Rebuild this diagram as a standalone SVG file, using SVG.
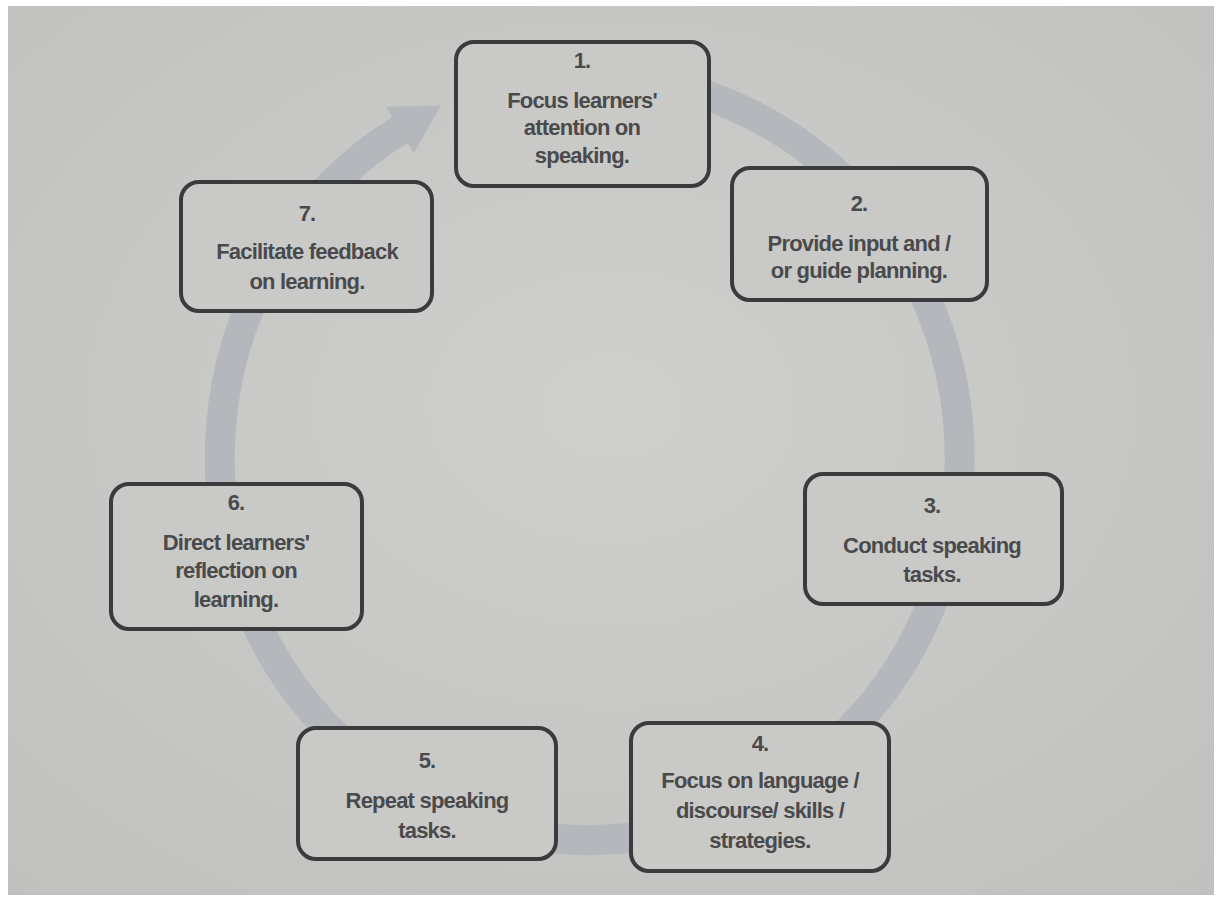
<svg xmlns="http://www.w3.org/2000/svg" width="1222" height="901" viewBox="0 0 1222 901">
<defs>
<style>
.box{fill:#c9cac8;stroke:#3b3b3d;stroke-width:4}
.t{font-family:"Liberation Sans",Arial,sans-serif;font-size:22px;font-weight:bold;fill:#4a4a4c;text-anchor:middle;letter-spacing:-0.8px}
.ring{fill:none;stroke:#b4b7bb;stroke-width:30}
</style>
<radialGradient id="paper" cx="0.5" cy="0.45" r="0.75">
<stop offset="0" stop-color="#cfd0ce"/>
<stop offset="1" stop-color="#c0c1bf"/>
</radialGradient>
<marker id="ah" markerUnits="strokeWidth" markerWidth="1.6" markerHeight="1.8" refX="0.2" refY="0.9" orient="auto" viewBox="0 0 1.6 1.8">
<path d="M0,0 L1.6,0.9 L0,1.8 z" fill="#b4b7bb"/>
</marker>
</defs>
<rect width="1222" height="901" fill="#ffffff"/>
<rect x="8" y="6" width="1206" height="889" fill="url(#paper)"/>
<g id="connectors">
<path class="ring" d="M590,76 A370,382 0 1 1 405,127" marker-end="url(#ah)"/>
</g>
<g id="node1">
<rect class="box" x="456" y="42" width="253" height="144" rx="18"/>
<text class="t" x="582" y="68">1.</text>
<text class="t" x="582" y="108">Focus learners'</text>
<text class="t" x="582" y="135">attention on</text>
<text class="t" x="582" y="163">speaking.</text>
</g>
<g id="node2">
<rect class="box" x="732" y="168" width="255" height="132" rx="18"/>
<text class="t" x="859" y="211">2.</text>
<text class="t" x="859" y="251">Provide input and /</text>
<text class="t" x="859" y="278">or guide planning.</text>
</g>
<g id="node3">
<rect class="box" x="805" y="474" width="257" height="130" rx="18"/>
<text class="t" x="932" y="513">3.</text>
<text class="t" x="932" y="553">Conduct speaking</text>
<text class="t" x="932" y="582">tasks.</text>
</g>
<g id="node4">
<rect class="box" x="631" y="723" width="258" height="148" rx="18"/>
<text class="t" x="760" y="751">4.</text>
<text class="t" x="760" y="788">Focus on language /</text>
<text class="t" x="760" y="818">discourse/ skills /</text>
<text class="t" x="760" y="848">strategies.</text>
</g>
<g id="node5">
<rect class="box" x="298" y="728" width="258" height="131" rx="18"/>
<text class="t" x="427" y="768">5.</text>
<text class="t" x="427" y="808">Repeat speaking</text>
<text class="t" x="427" y="838">tasks.</text>
</g>
<g id="node6">
<rect class="box" x="111" y="484" width="251" height="145" rx="18"/>
<text class="t" x="236" y="510">6.</text>
<text class="t" x="236" y="550">Direct learners'</text>
<text class="t" x="236" y="578">reflection on</text>
<text class="t" x="236" y="607">learning.</text>
</g>
<g id="node7">
<rect class="box" x="181" y="182" width="251" height="129" rx="18"/>
<text class="t" x="307" y="221">7.</text>
<text class="t" x="307" y="259">Facilitate feedback</text>
<text class="t" x="307" y="289">on learning.</text>
</g>
</svg>
